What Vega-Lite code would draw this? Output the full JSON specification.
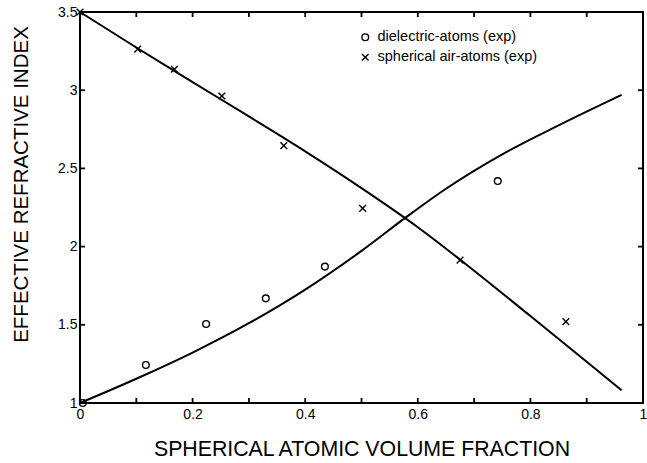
{
  "$schema": "https://vega.github.io/schema/vega-lite/v6.json",
  "width": 563,
  "height": 391,
  "autosize": "none",
  "padding": {"left": 80, "top": 12, "right": 4, "bottom": 60},
  "background": "white",
  "config": {
    "font": "Liberation Sans",
    "view": {"stroke": "black", "strokeWidth": 2},
    "axis": {
      "grid": false,
      "domain": false,
      "ticks": false,
      "tickSize": 0,
      "labelColor": "black",
      "titleColor": "black",
      "labelFont": "Liberation Sans",
      "titleFont": "Liberation Sans",
      "labelFontSize": 14,
      "titleFontWeight": "normal",
      "labelFlush": false,
      "labelOverlap": false
    }
  },
  "datasets": {
    "curves": [
      {"curve": "dielectric", "fraction": 0.0, "n": 1.0},
      {"curve": "dielectric", "fraction": 0.1, "n": 1.155},
      {"curve": "dielectric", "fraction": 0.2, "n": 1.3225},
      {"curve": "dielectric", "fraction": 0.3, "n": 1.51},
      {"curve": "dielectric", "fraction": 0.4, "n": 1.725},
      {"curve": "dielectric", "fraction": 0.5, "n": 1.9725},
      {"curve": "dielectric", "fraction": 0.58, "n": 2.19},
      {"curve": "dielectric", "fraction": 0.65, "n": 2.37},
      {"curve": "dielectric", "fraction": 0.75, "n": 2.59},
      {"curve": "dielectric", "fraction": 0.85, "n": 2.775},
      {"curve": "dielectric", "fraction": 0.962, "n": 2.97},
      {"curve": "air", "fraction": 0.0, "n": 3.5},
      {"curve": "air", "fraction": 0.1, "n": 3.273},
      {"curve": "air", "fraction": 0.2, "n": 3.052},
      {"curve": "air", "fraction": 0.3, "n": 2.832},
      {"curve": "air", "fraction": 0.4, "n": 2.609},
      {"curve": "air", "fraction": 0.5, "n": 2.374},
      {"curve": "air", "fraction": 0.6, "n": 2.124},
      {"curve": "air", "fraction": 0.7, "n": 1.846},
      {"curve": "air", "fraction": 0.8, "n": 1.556},
      {"curve": "air", "fraction": 0.9, "n": 1.264},
      {"curve": "air", "fraction": 0.962, "n": 1.081}
    ],
    "points": [
      {"series": "dielectric-atoms (exp)", "fraction": 0.005, "n": 1.0},
      {"series": "dielectric-atoms (exp)", "fraction": 0.117, "n": 1.243},
      {"series": "dielectric-atoms (exp)", "fraction": 0.224, "n": 1.505},
      {"series": "dielectric-atoms (exp)", "fraction": 0.33, "n": 1.669},
      {"series": "dielectric-atoms (exp)", "fraction": 0.435, "n": 1.872},
      {"series": "dielectric-atoms (exp)", "fraction": 0.742, "n": 2.419},
      {"series": "spherical air-atoms (exp)", "fraction": 0.0, "n": 3.5},
      {"series": "spherical air-atoms (exp)", "fraction": 0.1025, "n": 3.263},
      {"series": "spherical air-atoms (exp)", "fraction": 0.1676, "n": 3.134},
      {"series": "spherical air-atoms (exp)", "fraction": 0.252, "n": 2.963},
      {"series": "spherical air-atoms (exp)", "fraction": 0.362, "n": 2.645},
      {"series": "spherical air-atoms (exp)", "fraction": 0.502, "n": 2.245},
      {"series": "spherical air-atoms (exp)", "fraction": 0.675, "n": 1.914},
      {"series": "spherical air-atoms (exp)", "fraction": 0.863, "n": 1.52}
    ],
    "xticks": [
      {"value": 0}, {"value": 0.1}, {"value": 0.2}, {"value": 0.3}, {"value": 0.4}, {"value": 0.5},
      {"value": 0.6}, {"value": 0.7}, {"value": 0.8}, {"value": 0.9}, {"value": 1}
    ],
    "yticks": [
      {"value": 1}, {"value": 1.5}, {"value": 2}, {"value": 2.5}, {"value": 3}, {"value": 3.5}
    ]
  },
  "resolve": {"axis": {"x": "independent", "y": "independent"}},
  "layer": [
    {
      "data": {"name": "curves"},
      "mark": {"type": "line", "color": "black", "strokeWidth": 2, "interpolate": "monotone"},
      "encoding": {
        "x": {
          "field": "fraction", "type": "quantitative",
          "scale": {"domain": [0, 1], "nice": false, "zero": false},
          "axis": {
            "orient": "bottom",
            "title": "SPHERICAL ATOMIC VOLUME FRACTION",
            "values": [0, 0.2, 0.4, 0.6, 0.8, 1],
            "format": "~g",
            "labelPadding": 4,
            "titleFontSize": 21.3,
            "titleY": 52,
            "titleBaseline": "alphabetic"
          }
        },
        "y": {
          "field": "n", "type": "quantitative",
          "scale": {"domain": [1, 3.5], "nice": false, "zero": false},
          "axis": {
            "orient": "left",
            "title": "EFFECTIVE REFRACTIVE INDEX",
            "values": [1, 1.5, 2, 2.5, 3, 3.5],
            "format": "~g",
            "labelPadding": 3,
            "titleFontSize": 20.5,
            "titleX": -53,
            "titleY": 172,
            "titleAngle": -90,
            "titleAlign": "center",
            "titleBaseline": "alphabetic"
          }
        },
        "detail": {"field": "curve", "type": "nominal"}
      }
    },
    {
      "data": {"name": "xticks"},
      "mark": {"type": "point", "shape": "M0,0L0,-1", "size": 100, "filled": false, "stroke": "black", "strokeWidth": 1.8, "opacity": 1},
      "encoding": {
        "x": {"field": "value", "type": "quantitative", "axis": null},
        "y": {"datum": 1, "type": "quantitative", "axis": null}
      }
    },
    {
      "data": {"name": "xticks"},
      "mark": {"type": "point", "shape": "M0,0L0,1", "size": 100, "filled": false, "stroke": "black", "strokeWidth": 1.8, "opacity": 1},
      "encoding": {
        "x": {"field": "value", "type": "quantitative", "axis": null},
        "y": {"datum": 3.5, "type": "quantitative", "axis": null}
      }
    },
    {
      "data": {"name": "yticks"},
      "mark": {"type": "point", "shape": "M0,0L1,0", "size": 100, "filled": false, "stroke": "black", "strokeWidth": 1.8, "opacity": 1},
      "encoding": {
        "y": {"field": "value", "type": "quantitative", "axis": null},
        "x": {"datum": 0, "type": "quantitative", "axis": null}
      }
    },
    {
      "data": {"name": "yticks"},
      "mark": {"type": "point", "shape": "M0,0L-1,0", "size": 100, "filled": false, "stroke": "black", "strokeWidth": 1.8, "opacity": 1},
      "encoding": {
        "y": {"field": "value", "type": "quantitative", "axis": null},
        "x": {"datum": 1, "type": "quantitative", "axis": null}
      }
    },
    {
      "data": {"name": "points"},
      "mark": {"type": "point", "filled": false, "color": "black", "strokeWidth": 1.4, "size": 45, "opacity": 1},
      "encoding": {
        "x": {"field": "fraction", "type": "quantitative", "axis": null},
        "y": {"field": "n", "type": "quantitative", "axis": null},
        "shape": {
          "field": "series", "type": "nominal",
          "scale": {
            "domain": ["dielectric-atoms (exp)", "spherical air-atoms (exp)"],
            "range": ["circle", "M-1,-1L1,1M-1,1L1,-1"]
          },
          "legend": {
            "title": null,
            "orient": "none",
            "legendX": 278,
            "legendY": 18,
            "padding": 0,
            "labelFontSize": 14.5,
            "labelFont": "Liberation Sans",
            "labelColor": "black",
            "labelOffset": 5,
            "labelLimit": 400,
            "rowPadding": 5,
            "symbolSize": 45,
            "symbolStrokeColor": "black",
            "symbolStrokeWidth": 1.4,
            "symbolFillColor": "transparent"
          }
        }
      }
    }
  ]
}
